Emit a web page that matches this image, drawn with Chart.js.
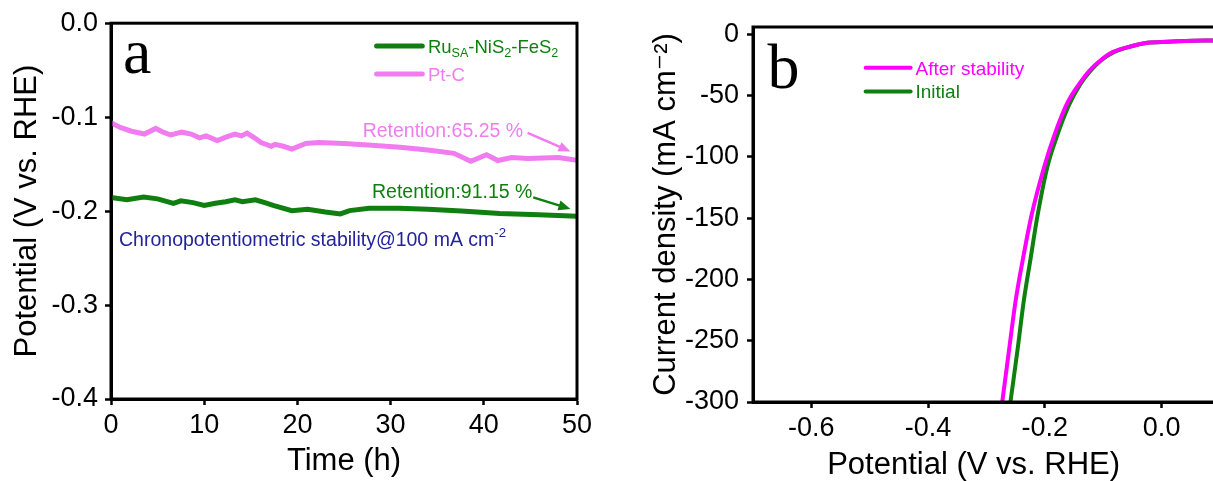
<!DOCTYPE html>
<html>
<head>
<meta charset="utf-8">
<script src="https://cdn.jsdelivr.net/npm/chart.js@4.4.1/dist/chart.umd.min.js"></script>
<style>
  html, body { margin: 0; padding: 0; background: #fff; overflow: hidden; }
  body { width: 1213px; height: 481px; position: relative; }
  .panel { position: absolute; top: 0; height: 481px; }
  #wrapA { left: 0; width: 600px; }
  #wrapB { left: 620px; width: 620px; }
</style>
</head>
<body>
<div class="panel" id="wrapA"><canvas id="stabilityChart"></canvas></div>
<div class="panel" id="wrapB"><canvas id="lsvChart"></canvas></div>
<script>
// panel a - chronopotentiometry @100 mA cm-2
const timeRu = [0, 1.7, 3.5, 5.0, 6.7, 7.5, 8.8, 10.0, 11.2, 12.3, 13.3, 14.1, 15.5, 16.5, 17.4, 19.4, 21.1, 23.0, 24.6, 25.6, 27.7, 30.9, 34.0, 37.6, 41.7, 45.9, 50.0];
const potRu = [-0.1855, -0.188, -0.185, -0.187, -0.1917, -0.189, -0.191, -0.194, -0.1917, -0.190, -0.188, -0.190, -0.188, -0.191, -0.194, -0.1995, -0.198, -0.201, -0.203, -0.1995, -0.197, -0.197, -0.198, -0.200, -0.2025, -0.204, -0.2055];
const timePt = [0, 1.0, 2.2, 3.6, 4.8, 5.6, 6.4, 7.6, 8.6, 9.5, 10.2, 11.4, 12.4, 13.3, 14.0, 14.6, 15.4, 16.1, 17.2, 17.6, 18.5, 19.4, 20.9, 22.3, 25.0, 28.0, 31.0, 34.0, 36.8, 38.6, 40.3, 41.5, 43.0, 44.7, 46.4, 48.0, 50.0];
const potPt = [-0.106, -0.111, -0.115, -0.118, -0.112, -0.116, -0.119, -0.116, -0.118, -0.122, -0.120, -0.125, -0.121, -0.118, -0.120, -0.117, -0.122, -0.127, -0.131, -0.129, -0.131, -0.134, -0.128, -0.127, -0.128, -0.130, -0.132, -0.135, -0.1385, -0.147, -0.140, -0.1462, -0.143, -0.144, -0.1435, -0.143, -0.146];
const xTicksA = [0, 10, 20, 30, 40, 50];
const yTicksA = [0, -0.1, -0.2, -0.3, -0.4];

// panel b - polarization curves
const potInitial = [-0.259, -0.247, -0.236, -0.2245, -0.213, -0.196, -0.180, -0.159, -0.139, -0.122, -0.1045, -0.082, -0.050, -0.024, 0.010, 0.040, 0.084, 0.1];
const curInitial = [-300, -258, -217, -183, -149, -108.6, -84, -58, -40.5, -29.9, -21.5, -14.5, -9.5, -6.9, -6.0, -5.4, -5.0, -4.9];
const potAfter = [-0.273, -0.2615, -0.250, -0.2375, -0.2235, -0.2015, -0.1835, -0.1615, -0.1405, -0.1235, -0.105, -0.083, -0.050, -0.025, 0.010, 0.040, 0.084, 0.1];
const curAfter = [-300, -258, -217, -183, -149, -108.6, -82, -56, -40, -29.5, -21.3, -14.3, -9.5, -6.9, -6.0, -5.4, -5.0, -4.9];
const xTicksB = [-0.6, -0.4, -0.2, 0.0];
const yTicksB = [0, -50, -100, -150, -200, -250, -300];

const FONT = '"Liberation Sans", Arial, "DejaVu Sans", sans-serif';
const SERIF = '"Liberation Serif", "Times New Roman", serif';
const GREEN = "#0f7f0f";
const PINK = "#f07cf0";
const MAGENTA = "#ff00ff";
const BLUE = "#23239b";

const toPoints = (xs, ys) => xs.map((x, i) => ({ x: x, y: ys[i] }));

// text with sub/superscripts, y is the visual middle of the caps
function richText(ctx, x, y, parts, size, color) {
  let cx = x;
  const base = y + size * 0.36;
  ctx.fillStyle = color;
  ctx.textAlign = "left";
  ctx.textBaseline = "alphabetic";
  parts.forEach(([t, kind]) => {
    const fs = kind ? size * 0.68 : size;
    const dy = kind === "sub" ? size * 0.22 : kind === "sup" ? -size * 0.45 : 0;
    ctx.font = `${fs}px ${FONT}`;
    ctx.fillText(t, cx, base + dy);
    cx += ctx.measureText(t).width;
  });
}

function arrow(ctx, x1, y1, x2, y2, color) {
  const ang = Math.atan2(y2 - y1, x2 - x1);
  const head = 12;
  ctx.strokeStyle = color;
  ctx.fillStyle = color;
  ctx.lineWidth = 2.5;
  ctx.beginPath();
  ctx.moveTo(x1, y1);
  ctx.lineTo(x2 - head * 0.8 * Math.cos(ang), y2 - head * 0.8 * Math.sin(ang));
  ctx.stroke();
  ctx.beginPath();
  ctx.moveTo(x2, y2);
  ctx.lineTo(x2 - head * Math.cos(ang) + 5 * Math.sin(ang), y2 - head * Math.sin(ang) - 5 * Math.cos(ang));
  ctx.lineTo(x2 - head * Math.cos(ang) - 5 * Math.sin(ang), y2 - head * Math.sin(ang) + 5 * Math.cos(ang));
  ctx.closePath();
  ctx.fill();
}

function legendLine(ctx, x1, x2, y, color, width) {
  ctx.strokeStyle = color;
  ctx.lineWidth = width;
  ctx.lineCap = "round";
  ctx.beginPath();
  ctx.moveTo(x1, y);
  ctx.lineTo(x2, y);
  ctx.stroke();
  ctx.lineCap = "butt";
}

const framePlugin = {
  id: "frame",
  afterDraw(chart) {
    const { ctx, chartArea: a } = chart;
    ctx.save();
    ctx.strokeStyle = "#000";
    ctx.lineWidth = 3;
    ctx.strokeRect(a.left, a.top, a.right - a.left, a.bottom - a.top);
    ctx.restore();
  },
};

const decorA = {
  id: "decorA",
  afterDraw(chart) {
    const { ctx, scales: { x, y } } = chart;
    const px = (v) => x.getPixelForValue(v);
    const py = (v) => y.getPixelForValue(v);
    ctx.save();
    ctx.fillStyle = "#000";
    ctx.font = `64px ${SERIF}`;
    ctx.textBaseline = "alphabetic";
    ctx.fillText("a", px(1.3), py(-0.053));

    legendLine(ctx, px(28.5), px(33.4), py(-0.0244), GREEN, 5);
    richText(ctx, px(34.0), py(-0.0244), [["Ru"], ["SA", "sub"], ["-NiS"], ["2", "sub"], ["-FeS"], ["2", "sub"]], 18.5, GREEN);
    legendLine(ctx, px(28.5), px(33.4), py(-0.0541), PINK, 5);
    richText(ctx, px(34.0), py(-0.0541), [["Pt-C"]], 18.5, PINK);

    richText(ctx, px(27.0), py(-0.1135), [["Retention:65.25 %"]], 19.5, PINK);
    arrow(ctx, px(44.7), py(-0.1167), px(49.3), py(-0.1366), PINK);
    richText(ctx, px(28.0), py(-0.1783), [["Retention:91.15 %"]], 19.5, GREEN);
    arrow(ctx, px(45.3), py(-0.1854), px(49.3), py(-0.1977), GREEN);

    richText(ctx, px(0.86), py(-0.2292), [["Chronopotentiometric stability@100 mA cm"], ["-2", "sup"]], 19.5, BLUE);
    ctx.restore();
  },
};

const decorB = {
  id: "decorB",
  afterDraw(chart) {
    const { ctx, scales: { x, y } } = chart;
    const px = (v) => x.getPixelForValue(v);
    const py = (v) => y.getPixelForValue(v);
    ctx.save();
    ctx.fillStyle = "#000";
    ctx.font = `64px ${SERIF}`;
    ctx.textBaseline = "alphabetic";
    ctx.fillText("b", px(-0.675), py(-43.7));

    legendLine(ctx, px(-0.507), px(-0.43), py(-27.2), MAGENTA, 4);
    richText(ctx, px(-0.4216), py(-27.2), [["After stability"]], 19, MAGENTA);
    legendLine(ctx, px(-0.507), px(-0.43), py(-46.7), GREEN, 4);
    richText(ctx, px(-0.4216), py(-46.7), [["Initial"]], 19, GREEN);
    ctx.restore();
  },
};

function axis(opts) {
  return {
    type: "linear",
    min: opts.min,
    max: opts.max,
    afterFit: opts.fit,
    afterBuildTicks: (s) => {
      s.ticks = opts.ticks.map((v) => ({ value: v }));
    },
    grid: { drawOnChartArea: false, drawTicks: true, tickLength: 6, tickWidth: 2.5, tickColor: "#000" },
    border: { display: true, color: "#000", width: 3 },
    ticks: { font: { family: FONT, size: 27 }, color: "#000", padding: opts.pad, maxRotation: 0, callback: opts.fmt },
    title: { display: true, text: opts.title, color: "#000", font: { family: FONT, size: 31, lineHeight: 1 }, padding: opts.titlePad },
  };
}

new Chart(document.getElementById("stabilityChart"), {
  type: "line",
  data: {
    datasets: [
      { label: "Pt-C", data: toPoints(timePt, potPt), borderColor: PINK, borderWidth: 5, pointRadius: 0, tension: 0 },
      { label: "RuSA-NiS2-FeS2", data: toPoints(timeRu, potRu), borderColor: GREEN, borderWidth: 5, pointRadius: 0, tension: 0 },
    ],
  },
  options: {
    animation: false,
    responsive: true,
    maintainAspectRatio: false,
    layout: { padding: { top: 22, right: 23, left: 0, bottom: 0 } },
    plugins: { legend: { display: false }, tooltip: { enabled: false } },
    scales: {
      x: axis({ min: 0, max: 50, ticks: xTicksA, fit: (s) => { s.height = 82; }, pad: 4, fmt: (v) => String(v), title: "Time (h)", titlePad: { top: 0, bottom: 4 } }),
      y: axis({ min: -0.4, max: 0, ticks: yTicksA, fit: (s) => { s.width = 111; }, pad: 7, fmt: (v) => Number(v).toFixed(1), title: "Potential (V vs. RHE)", titlePad: { top: 12, bottom: 0 } }),
    },
  },
  plugins: [framePlugin, decorA],
});

new Chart(document.getElementById("lsvChart"), {
  type: "line",
  data: {
    datasets: [
      { label: "After stability", data: toPoints(potAfter, curAfter), borderColor: MAGENTA, borderWidth: 4, pointRadius: 0, cubicInterpolationMode: "monotone", clip: 0 },
      { label: "Initial", data: toPoints(potInitial, curInitial), borderColor: GREEN, borderWidth: 4, pointRadius: 0, cubicInterpolationMode: "monotone", clip: 0 },
    ],
  },
  options: {
    animation: false,
    responsive: true,
    maintainAspectRatio: false,
    layout: { padding: { top: 27, right: 20, left: 0, bottom: 0 } },
    plugins: { legend: { display: false }, tooltip: { enabled: false } },
    scales: {
      x: axis({ min: -0.7, max: 0.1, ticks: xTicksB, fit: (s) => { s.height = 79; }, pad: 4, fmt: (v) => Number(v).toFixed(1), title: "Potential (V vs. RHE)   ", titlePad: { top: 0, bottom: 0 } }),
      y: axis({ min: -300, max: 6, ticks: yTicksB, fit: (s) => { s.width = 133; }, pad: 8, fmt: (v) => String(v), title: "Current density (mA cm\u207B\u00B2)", titlePad: { top: 31, bottom: 0 } }),
    },
  },
  plugins: [framePlugin, decorB],
});
</script>
</body>
</html>
